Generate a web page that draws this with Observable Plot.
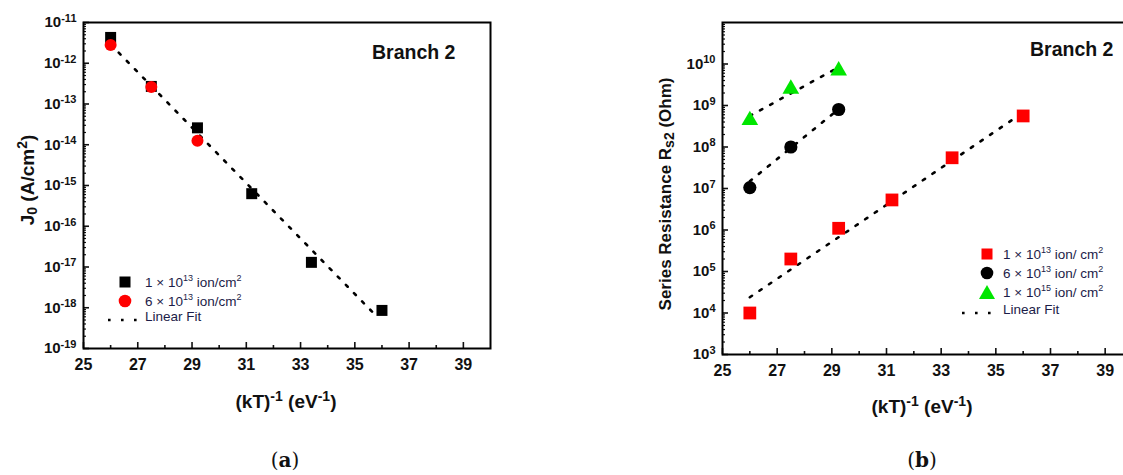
<!DOCTYPE html>
<html><head><meta charset="utf-8">
<script src="https://cdn.jsdelivr.net/npm/d3@7"></script>
<script src="https://cdn.jsdelivr.net/npm/@observablehq/plot@0.6"></script>
<style>
body{margin:0;background:#fff;overflow:hidden}
#wrap{position:relative;width:1123px;height:475px;overflow:hidden;font-family:"Liberation Sans",Arial,sans-serif;color:#111}
.abs{position:absolute;white-space:nowrap;line-height:1}
.plot{position:absolute;top:0}
.title{font-weight:bold;font-size:19px;color:#111}
.title sup{font-size:14px;vertical-align:7px}
.title sub{font-size:14px;vertical-align:-3px}
.branch{font-weight:bold;font-size:19.5px;color:#111}
.leg{font-size:13.5px;color:#1c1c48}
.leg sup{font-size:9px;vertical-align:6px}
.cap{font-family:"DejaVu Serif","Liberation Serif",serif;font-size:20px;color:#111}
</style></head><body><div id="wrap"></div>
<script>
// ---- Panel (a): J0 vs (kT)^-1 ----
const a_x_1e13 = [26, 27.5, 29.2, 31.2, 33.4, 36];
const a_y_1e13 = [4.3e-12, 2.7e-13, 2.6e-14, 6.3e-16, 1.3e-17, 8.6e-19];
const a_x_6e13 = [26, 27.5, 29.2];
const a_y_6e13 = [2.8e-12, 2.6e-13, 1.26e-14];
const a_fit_x = [26, 35.8];
const a_fit_y = [2.9e-12, 6.2e-19];
const a_ydomain = [1e-19, 1e-11];
const a_yticks = [-19, -18, -17, -16, -15, -14, -13, -12, -11];

// ---- Panel (b): series resistance vs (kT)^-1 ----
const b_x_1e13 = [26, 27.5, 29.25, 31.2, 33.4, 36];
const b_y_1e13 = [1e4, 2e5, 1.1e6, 5.3e6, 5.5e7, 5.6e8];
const b_x_6e13 = [26, 27.5, 29.25];
const b_y_6e13 = [1.05e7, 1e8, 8e8];
const b_x_1e15 = [26, 27.5, 29.25];
const b_y_1e15 = [4.4e8, 2.5e9, 6.9e9];
const b_fit1_x = [26, 36];      const b_fit1_y = [2.4e4, 6.8e8];
const b_fit2_x = [26, 29.1];    const b_fit2_y = [1.5e7, 6.8e8];
const b_fit3_x = [26, 29.1];    const b_fit3_y = [5.6e8, 7.4e9];
const b_ydomain = [1e3, 1e11];
const b_yticks = [3, 4, 5, 6, 7, 8, 9, 10];

// ---- shared ----
const xdomain = [25, 40];
const xMajor = [25, 27, 29, 31, 33, 35, 37, 39];
const xMinor = [26, 28, 30, 32, 34, 36, 38];

const pts = (xs, ys) => xs.map((x, i) => ({x, y: ys[i]}));
const minorLog = (exps) => {
  const out = [];
  for (let e = exps[0]; e < exps[exps.length - 1] + 1; e++)
    for (let m = 2; m <= 9; m++) out.push(m * Math.pow(10, e));
  return out;
};

function panel({width, height, ml, mr, mt, mb, ydomain, yexps, marks}) {
  const yMajor = yexps.map(e => Math.pow(10, e));
  const yMinor = minorLog(yexps).filter(v => v > ydomain[0] && v < ydomain[1]);
  const svg = Plot.plot({
    width, height, marginLeft: ml, marginRight: mr, marginTop: mt, marginBottom: mb,
    x: {domain: xdomain},
    y: {type: "log", domain: ydomain},
    style: {fontFamily: '"Liberation Sans", Arial, sans-serif', fontSize: "14px", fontWeight: "bold", color: "#111", background: "transparent", overflow: "visible"},
    marks: [
      // inside ticks
      Plot.axisX(xMajor, {tickSize: 6, dy: -6, tickFormat: () => "", label: null, strokeWidth: 1.6}),
      Plot.axisX(xMinor, {tickSize: 3, dy: -3, tickFormat: () => "", label: null, strokeWidth: 1.6}),
      Plot.axisY(yMajor, {tickSize: 6, dx: 6, tickFormat: () => "", label: null, strokeWidth: 1.6}),
      Plot.axisY(yMinor, {tickSize: 3, dx: 3, tickFormat: () => "", label: null, strokeWidth: 1.2}),
      // labels
      Plot.axisX(xMajor, {tickSize: 0, tickPadding: 10, tickFormat: d => "x" + d, label: null}),
      Plot.axisY(yMajor, {tickSize: 0, tickPadding: 7, tickFormat: d => "10^" + Math.round(Math.log10(d)), label: null}),
      ...marks,
      Plot.frame({stroke: "black", strokeWidth: 2})
    ]
  });
  const NS = "http://www.w3.org/2000/svg";
  svg.querySelectorAll("text").forEach(t => {
    const s = t.textContent;
    if (s.startsWith("10^")) {
      const exp = s.slice(3);
      t.textContent = "";
      t.setAttribute("font-size", "15px");
      t.setAttribute("font-weight", "bold");
      const base = document.createElementNS(NS, "tspan");
      base.textContent = "10";
      const sup = document.createElementNS(NS, "tspan");
      sup.textContent = exp;
      sup.setAttribute("dy", "-0.5em");
      sup.setAttribute("font-size", "11px");
      t.appendChild(base); t.appendChild(sup);
    } else if (s.startsWith("x")) {
      t.textContent = s.slice(1);
      t.setAttribute("font-size", "16px");
      t.setAttribute("font-weight", "bold");
    }
  });
  return svg;
}

const fitStyle = {x: "x", y: "y", stroke: "black", strokeWidth: 2.6, strokeDasharray: "2.6,9"};

const svgA = panel({
  width: 520, height: 395, ml: 83, mr: 30, mt: 22, mb: 47,
  ydomain: a_ydomain, yexps: a_yticks,
  marks: [
    Plot.line(pts(a_fit_x, a_fit_y), fitStyle),
    Plot.dot(pts(a_x_1e13, a_y_1e13), {x: "x", y: "y", symbol: "square", r: 6.2, fill: "black"}),
    Plot.dot(pts(a_x_6e13, a_y_6e13), {x: "x", y: "y", symbol: "circle", r: 6, fill: "#ff0000"})
  ]
});
svgA.classList.add("plot"); svgA.style.left = "0px";

const svgB = panel({
  width: 502, height: 395, ml: 82, mr: 10, mt: 22, mb: 41,
  ydomain: b_ydomain, yexps: b_yticks,
  marks: [
    Plot.line(pts(b_fit1_x, b_fit1_y), fitStyle),
    Plot.line(pts(b_fit2_x, b_fit2_y), fitStyle),
    Plot.line(pts(b_fit3_x, b_fit3_y), fitStyle),
    Plot.dot(pts(b_x_1e13, b_y_1e13), {x: "x", y: "y", symbol: "square", r: 7.2, fill: "#ff0000"}),
    Plot.dot(pts(b_x_6e13, b_y_6e13), {x: "x", y: "y", symbol: "circle", r: 6.6, fill: "black"}),
    Plot.dot(pts(b_x_1e15, b_y_1e15), {x: "x", y: "y", symbol: "triangle", r: 6.2, fill: "#00e600"})
  ]
});
svgB.classList.add("plot"); svgB.style.left = "640px";

const wrap = document.getElementById("wrap");
wrap.appendChild(svgA);
wrap.appendChild(svgB);

function add(html, cls, css) {
  const d = document.createElement("div");
  d.className = "abs " + cls;
  d.innerHTML = html;
  Object.assign(d.style, css);
  wrap.appendChild(d);
  return d;
}
const sym = {
  square: c => `<svg width="16" height="16"><rect x="2.5" y="2.5" width="11" height="11" fill="${c}"/></svg>`,
  circle: c => `<svg width="16" height="16"><circle cx="8" cy="8" r="6.3" fill="${c}"/></svg>`,
  triangle: c => `<svg width="18" height="16"><path d="M9,1 L17,15 L1,15 Z" fill="${c}"/></svg>`,
  fit: () => `<svg width="32" height="6"><line x1="1" y1="3" x2="31" y2="3" stroke="black" stroke-width="2.6" stroke-dasharray="2.6,10.4"/></svg>`
};
function legRow(symHtml, text, symLeft, textLeft, cy) {
  add(symHtml, "", {left: symLeft + "px", top: (cy - 8) + "px"});
  add(text, "leg", {left: textLeft + "px", top: (cy - 8) + "px"});
}

// axis titles
add("(kT)<sup>-1</sup> (eV<sup>-1</sup>)", "title", {left: "286px", top: "400px", transform: "translate(-50%,-50%)"});
add("(kT)<sup>-1</sup> (eV<sup>-1</sup>)", "title", {left: "922px", top: "405px", transform: "translate(-50%,-50%)"});
add("J<sub>0</sub> (A/cm<sup>2</sup>)", "title", {left: "27px", top: "180px", transform: "translate(-50%,-50%) rotate(-90deg)", fontSize: "19px"});
add("Series Resistance R<sub>s2</sub> (Ohm)", "title", {left: "666px", top: "194px", transform: "translate(-50%,-50%) rotate(-90deg)", fontSize: "17px"});

// Branch labels
add("Branch 2", "branch", {left: "372px", top: "43px"});
add("Branch 2", "branch", {left: "1030px", top: "40px"});

// legend (a)
legRow(sym.square("black"), "1 × 10<sup>13</sup> ion/cm<sup>2</sup>", 117, 145, 282);
legRow(sym.circle("#ff0000"), "6 × 10<sup>13</sup> ion/cm<sup>2</sup>", 117, 145, 301);
legRow(sym.fit(), "Linear Fit", 107, 145, 318);

// legend (b)
legRow(sym.square("#ff0000"), "1 × 10<sup>13</sup> ion/ cm<sup>2</sup>", 979, 1003, 254);
legRow(sym.circle("black"), "6 × 10<sup>13</sup> ion/ cm<sup>2</sup>", 979, 1003, 273);
legRow(sym.triangle("#00e600"), "1 × 10<sup>15</sup> ion/ cm<sup>2</sup>", 978, 1003, 292);
legRow(sym.fit(), "Linear Fit", 961, 1003, 311);

// captions
add("(<b>a</b>)", "cap", {left: "285px", top: "460px", transform: "translate(-50%,-50%)"});
add("(<b>b</b>)", "cap", {left: "922px", top: "460px", transform: "translate(-50%,-50%)"});
</script></body></html>
